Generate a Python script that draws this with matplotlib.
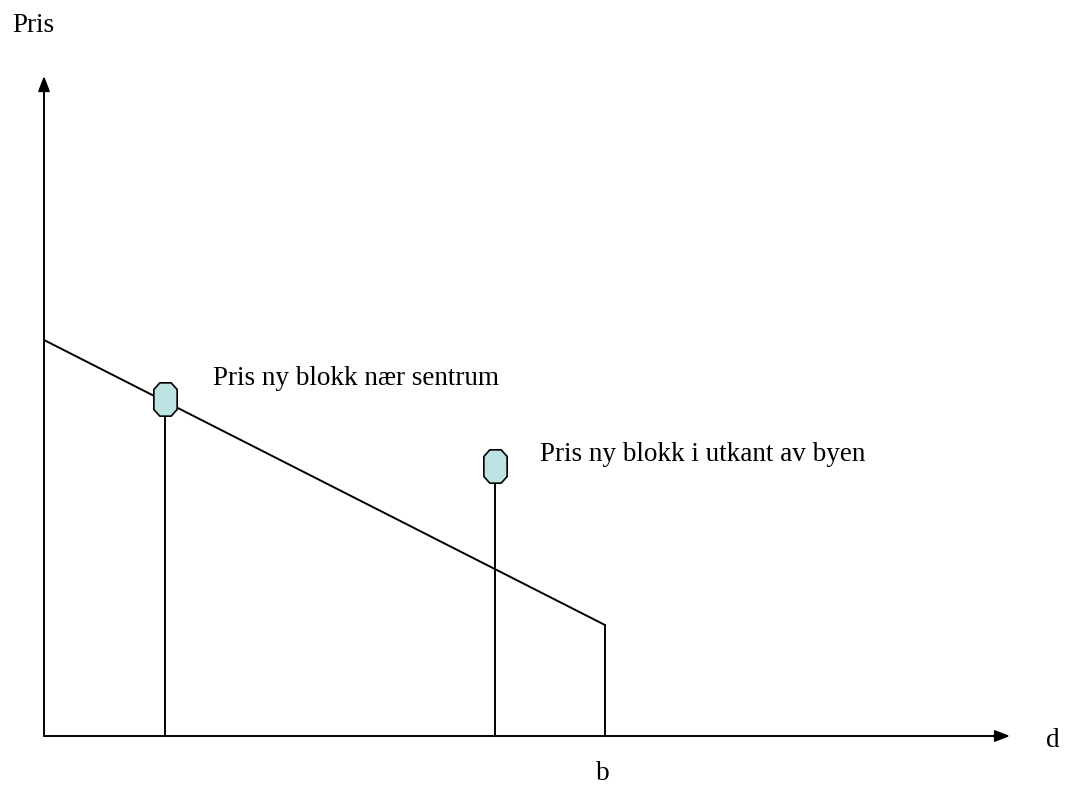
import matplotlib
matplotlib.use("Agg")
import matplotlib.pyplot as plt
from matplotlib.path import Path

# Price gradient from the centre (d = 0) to the city border b
grad_d = [0.0, 5.81]
grad_price = [6.0, 1.68]
border_d = 5.81

# New apartment blocks: distance from centre and price
block_d = [1.25, 4.67]
block_price = [5.11, 4.09]
block_labels = ["Pris ny blokk nær sentrum", "Pris ny blokk i utkant av byen"]
label_offsets = [(34.6, 10.1), (32.4, 3.6)]  # points, relative to the marker

W, H = 1066, 787
fig = plt.figure(figsize=(W / 100, H / 100), dpi=100)
x0, y0, x1, y1 = 44, 736, 1010, 76
ax = fig.add_axes([x0 / W, 1 - y0 / H, (x1 - x0) / W, (y0 - y1) / H])
ax.set_xlim(0, 10)
ax.set_ylim(0, 10)
ax.axis("off")

FONT = "Liberation Serif"
FS = 19.5
LW = 1.4

# Axes with arrow heads
arrow = dict(arrowstyle="-|>,head_length=0.9,head_width=0.35", color="black",
             lw=LW, shrinkA=0, shrinkB=0)
ax.annotate("", xy=(10, 0), xytext=(0, 0), arrowprops=arrow, annotation_clip=False)
ax.annotate("", xy=(0, 10), xytext=(0, 0), arrowprops=arrow, annotation_clip=False)

# Price gradient and the drop at the border
ax.plot(grad_d, grad_price, color="black", lw=LW, solid_capstyle="butt")
ax.plot([border_d, border_d], [0, grad_price[-1]], color="black", lw=LW)

# Elongated octagon marker
hw, hh, cx, cy = 0.35, 0.5, 0.17, 0.3
octa = Path([(-cx, hh), (cx, hh), (hw, cy), (hw, -cy), (cx, -hh), (-cx, -hh),
             (-hw, -cy), (-hw, cy), (-cx, hh)], closed=True)

for d, p, lab, off in zip(block_d, block_price, block_labels, label_offsets):
    ax.plot([d, d], [0, p], color="black", lw=LW, zorder=2)
    ax.plot([d], [p], marker=octa, markersize=24,
            markerfacecolor="#bde2e2", markeredgecolor="black", markeredgewidth=1.2,
            zorder=3)
    ax.annotate(lab, xy=(d, p), xytext=off, textcoords="offset points",
                fontsize=FS, family=FONT, va="baseline", ha="left")

# Axis labels
fig.text(12 / W, 1 - 32 / H, "Pris", fontsize=FS, family=FONT, va="baseline", ha="left")
fig.text(1046 / W, 1 - 747 / H, "d", fontsize=FS, family=FONT, va="baseline", ha="left")
ax.annotate("b", xy=(border_d, 0), xytext=(-2, -32), textcoords="offset points",
            fontsize=FS, family=FONT, va="baseline", ha="center", annotation_clip=False)

fig.savefig("out.png", dpi=100)
